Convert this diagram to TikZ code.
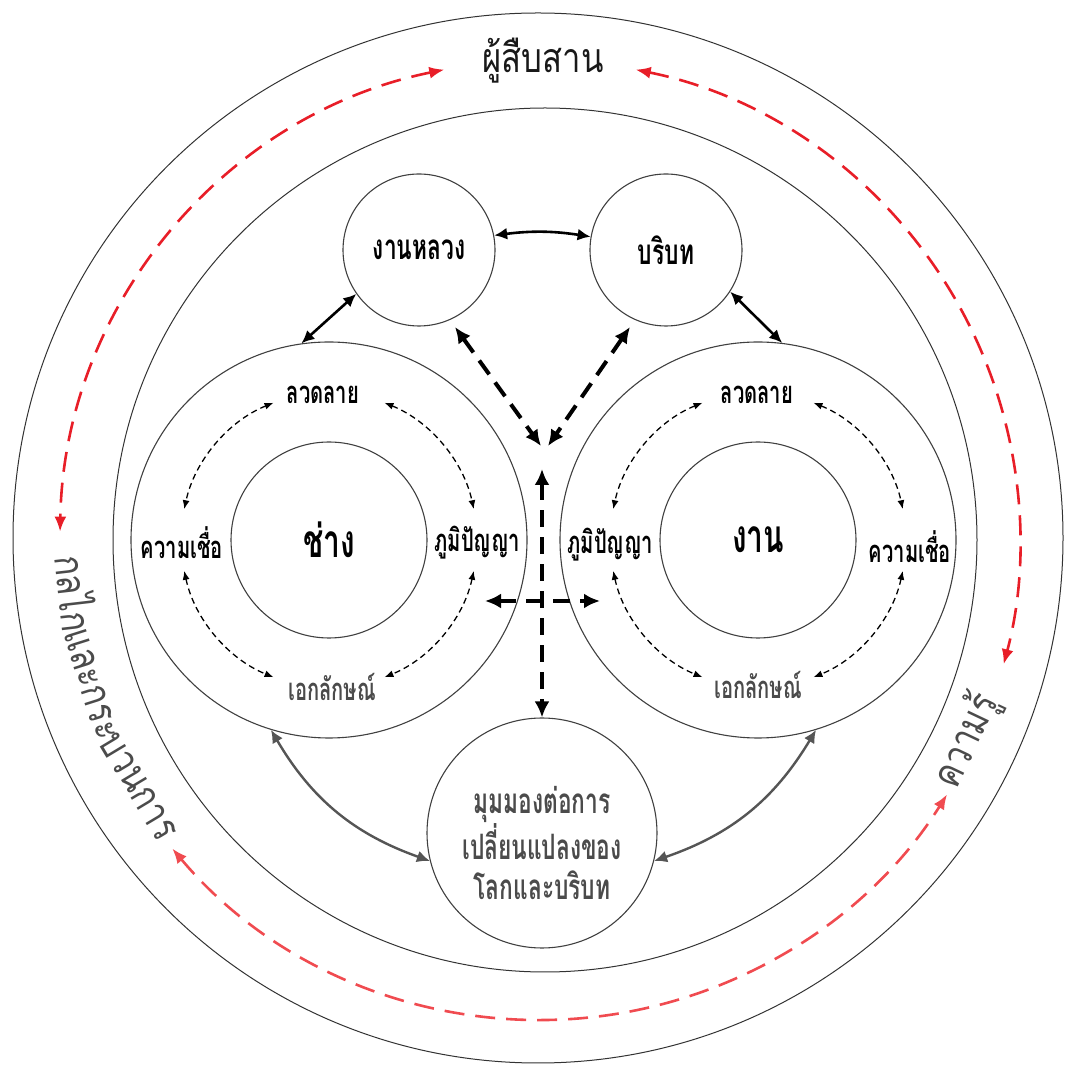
\documentclass[tikz,border=0pt]{standalone}
\usepackage{fontspec}
\usetikzlibrary{arrows.meta}
\newfontfamily\thaifont[Script=Thai,FakeStretch=0.8]{Loma}
\newfontfamily\thaibold[Script=Thai,FakeStretch=0.65]{Loma}
\definecolor{arcred}{RGB}{232,30,40}
\definecolor{arcpink}{RGB}{240,75,80}
\definecolor{txtgray}{RGB}{75,75,75}
\definecolor{linegray}{RGB}{85,85,85}
\newcommand\ringfont{\thaifont\fontsize{41}{45}\selectfont}
\newcommand\lblfont{\thaibold\bfseries\fontsize{31}{34}\selectfont}
\newcommand\topfont{\thaibold\bfseries\fontsize{35}{38}\selectfont}
\newcommand\bigfont{\thaibold\bfseries\fontsize{46}{48}\selectfont}
\newcommand\botfont{\thaibold\bfseries\fontsize{35}{40}\selectfont}
\tikzset{
  ringline/.style={draw=black!80,line width=1pt},
  circ/.style={circle,draw=black!75,line width=1.1pt,inner sep=0pt},
  lbl/.style={inner sep=0pt,font=\lblfont},
  ringtxt/.style={anchor=base west,inner sep=0pt,text=txtgray,font=\ringfont},
  redarc/.style={draw=arcred,line width=2.6pt,dash pattern=on 20pt off 11pt,
    {Latex[length=15pt,width=12pt]}-{Latex[length=15pt,width=12pt]}},
  smalldash/.style={line width=1.3pt,dash pattern=on 6pt off 4pt,
    {Latex[length=9pt,width=7pt]}-{Latex[length=9pt,width=7pt]}},
  bigdash/.style={line width=4pt,dash pattern=on 17pt off 10pt,
    {Latex[length=16pt,width=15pt]}-{Latex[length=16pt,width=15pt]}},
  solidarr/.style={line width=2.6pt,
    {Latex[length=13pt,width=12pt]}-{Latex[length=13pt,width=12pt]}},
  grayarr/.style={draw=linegray,line width=2.4pt,
    {Latex[length=13pt,width=12pt]}-{Latex[length=13pt,width=12pt]}},
}
\begin{document}
\begin{tikzpicture}[x=1pt,y=1pt]
  \useasboundingbox (0,0) rectangle (1068,1072);
  \coordinate (ringc) at (540,532);
  \draw[ringline] (538,534) circle (525);
  \draw[ringline] (545,532) circle (432);

  \node[text=black!90,font=\ringfont] (heir) at (543,1011) {ผู้สืบสาน};
  \coordinate (gstart) at ([shift={(182:486)}]ringc);
  \node[ringtxt,rotate=276.6] (g1) at (gstart) {กลไก};
  \node[ringtxt,rotate=287.6] (g2) at (g1.base east) {และกระ};
  \node[ringtxt,rotate=301.0] (g3) at (g2.base east) {บวนการ};
  \coordinate (kstart) at ([shift={(-31:486)}]ringc);
  \node[ringtxt,rotate=64.6] (know) at (kstart) {ความรู้};

  \draw[redarc] ([shift={(101.5:480)}]ringc) arc[start angle=101.5,end angle=179,radius=480];
  \draw[redarc] ([shift={(78.5:480)}]ringc) arc[start angle=78.5,end angle=-15,radius=480];
  \draw[redarc,draw=arcpink] ([shift={(220:480)}]ringc) arc[start angle=220,end angle=328,radius=480];

  \node[circ,minimum size=152,font=\topfont] (nl) at (419,822) {งานหลวง};
  \node[circ,minimum size=152,font=\topfont] (nb) at (666,822) {บริบท};
  \node[circ,minimum size=396] (chang) at (329,532) {};
  \node[circ,minimum size=196,font=\bigfont] (changin) at (329,532) {ช่าง};
  \node[circ,minimum size=396] (ngan) at (758,532) {};
  \node[circ,minimum size=196,font=\bigfont] (nganin) at (758,532) {งาน};
  \node[circ,minimum size=230] (bot) at (542,239) {};
  \node[font=\botfont,text=txtgray,align=center,inner sep=0pt] (bottxt) at (542,229)
    {มุมมองต่อการ\\เปลี่ยนแปลงของ\\โลกและบริบท};

  \node[lbl] (cpat) at (323,677) {ลวดลาย};
  \node[lbl] (cbel) at (182,529) {ความเชื่อ};
  \node[lbl] (cwis) at (477,529) {ภูมิปัญญา};
  \node[lbl,text=txtgray] (cide) at (332,385) {เอกลักษณ์};
  \node[lbl] (npat) at (757,677) {ลวดลาย};
  \node[lbl] (nwis) at (610,527) {ภูมิปัญญา};
  \node[lbl] (nbel) at (910,525) {ความเชื่อ};
  \node[lbl,text=txtgray] (nide) at (758,387) {เอกลักษณ์};

  \foreach \c in {chang,ngan}
    \foreach \a/\b in {112/168,68/12,192/248,-12/-68}
      \draw[smalldash] ([shift={(\a:148)}]\c.center) arc[start angle=\a,end angle=\b,radius=148];

  \draw[solidarr] (nl.11) to[bend left=8] (nb.170);
  \draw[solidarr] (nl.215) -- (chang.98);
  \draw[solidarr] (nb.-33) -- (ngan.83);
  \draw[grayarr] (chang.253) to[bend right=20] (bot.194);
  \draw[grayarr] (ngan.287) to[bend left=20] (bot.-14);

  \coordinate (dl) at (455,745);
  \coordinate (hubl) at (541,626);
  \coordinate (dr) at (630,745);
  \coordinate (hubr) at (548,626);
  \coordinate (ht) at (542,603);
  \coordinate (hl) at (485,471);
  \coordinate (hr) at (600,471);
  \draw[bigdash] (dl) -- (hubl);
  \draw[bigdash] (dr) -- (hubr);
  \draw[bigdash] (ht) -- (bot.north);
  \draw[bigdash] (hl) -- (hr);
\end{tikzpicture}
\end{document}
